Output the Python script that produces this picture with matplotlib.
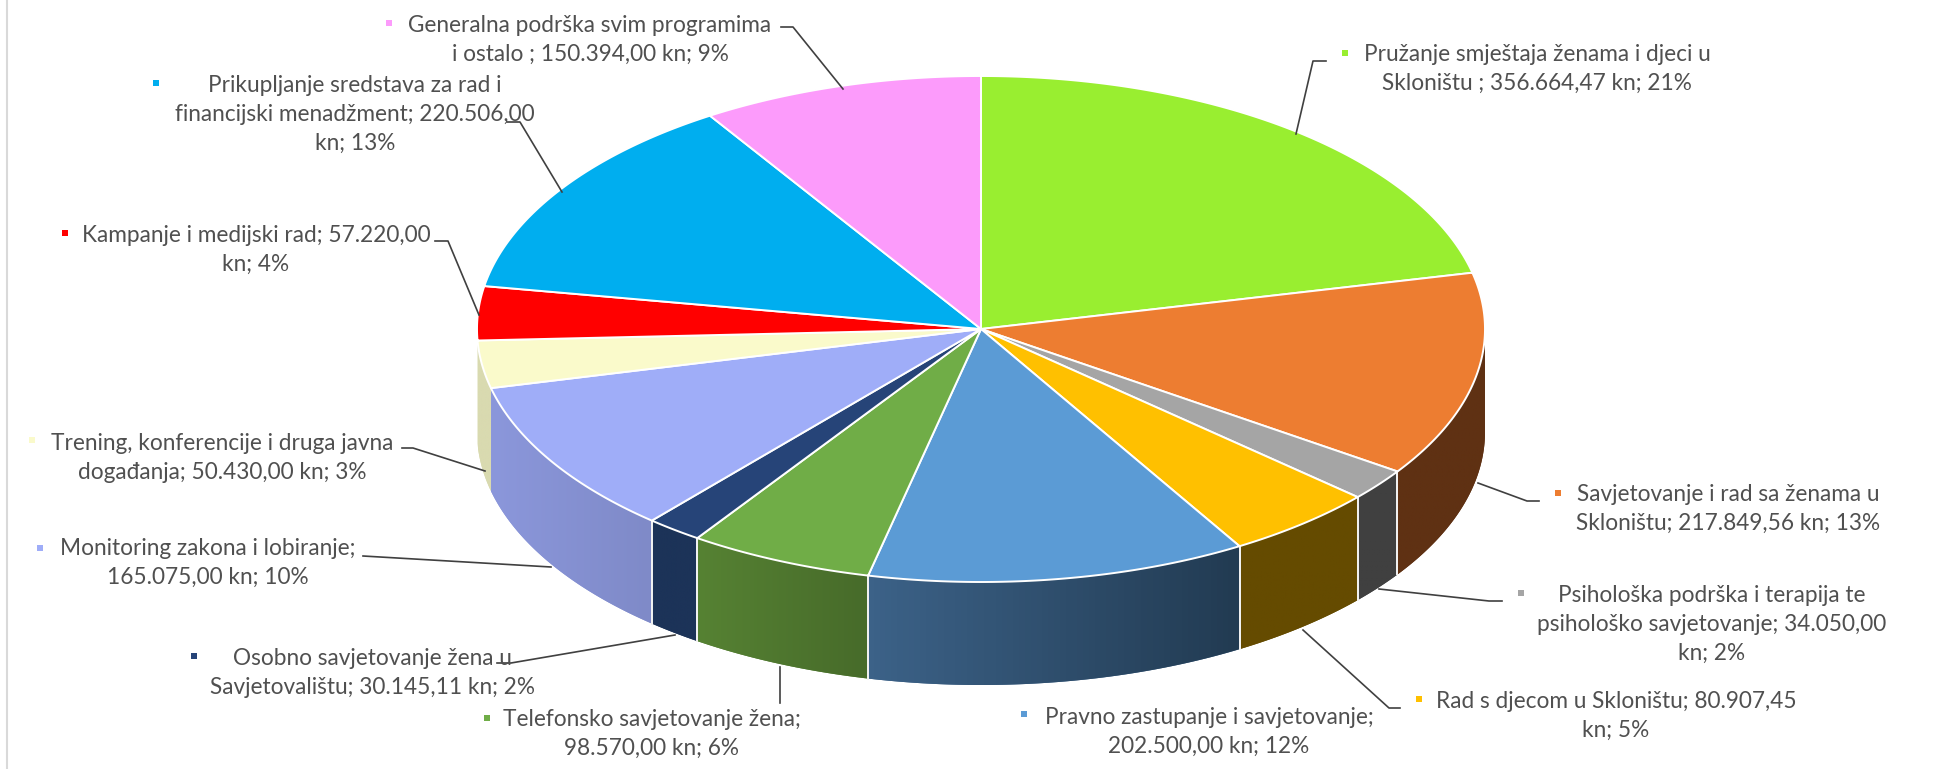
""" 3D style pie of expenses per programme, drawn with flat polygons"""

import numpy as np
import matplotlib
matplotlib.use('Agg')
import matplotlib.pyplot as plt
from matplotlib.colors import to_rgb

plt.rcParams['font.family'] = ['Lato', 'DejaVu Sans']

#%% data
values = [356664.47, 217849.56, 34050.00, 80907.45, 202500.00, 98570.00,
          30145.11, 165075.00, 50430.00, 57220.00, 220506.00, 150394.00]
labels = ['Pružanje smještaja ženama i djeci u\nSkloništu ; 356.664,47 kn; 21%',
          'Savjetovanje i rad sa ženama u\nSkloništu; 217.849,56 kn; 13%',
          'Psihološka podrška i terapija te\npsihološko savjetovanje; 34.050,00\nkn; 2%',
          'Rad s djecom u Skloništu; 80.907,45\nkn; 5%',
          'Pravno zastupanje i savjetovanje;\n202.500,00 kn; 12%',
          'Telefonsko savjetovanje žena;\n98.570,00 kn; 6%',
          'Osobno savjetovanje žena u\nSavjetovalištu; 30.145,11 kn; 2%',
          'Monitoring zakona i lobiranje;\n165.075,00 kn; 10%',
          'Trening, konferencije i druga javna\ndogađanja; 50.430,00 kn; 3%',
          'Kampanje i medijski rad; 57.220,00\nkn; 4%',
          'Prikupljanje sredstava za rad i\nfinancijski menadžment; 220.506,00\nkn; 13%',
          'Generalna podrška svim programima\ni ostalo ; 150.394,00 kn; 9%']

#%% styles
top_colors = ['#99ee30', '#ed7d31', '#a5a5a5', '#ffc000', '#5b9bd5', '#70ad47',
              '#264478', '#9fadf8', '#fafacb', '#ff0000', '#00aeef', '#fc9bfb']
# wall colour at the left and right end of each slice
wall_left = [None, '#5f3113', '#404040', '#654b00', '#3c6288', '#568233',
             '#1c3358', '#8b97db', '#d9dab0', None, None, None]
wall_right = [None, '#5f3113', '#404040', '#654b00', '#223b52', '#476b2a',
              '#1c3358', '#7f8ac8', '#d9dab0', None, None, None]

# layout in pixels of the 1943x769 picture
cx, cy, rx, ry, depth = 981, 329, 504, 253, 103
label_x = [1537, 1728, 1712, 1616, 1209, 652, 372, 208, 222, 256, 355, 590]
label_y = [54, 494, 595, 701, 717, 719, 658, 548, 443, 235, 85, 25]
key_x = [1345, 1558, 1521, 1419, 1024, 487, 194, 40, 32, 65, 156, 389]
key_y = [53, 493, 593, 699, 714, 718, 656, 548, 440, 233, 83, 23]
line_gap = 29.0
leaders = [[(1296, 134), (1313, 61), (1326, 61)],
           [(1478, 483), (1527, 501), (1539, 501)],
           [(1379, 589), (1489, 601), (1502, 601)],
           [(1303, 630), (1389, 708), (1400, 708)],
           None,
           [(780, 667), (780, 703)],
           [(675, 635), (511, 663), (497, 663)],
           [(551, 567), (363, 556)],
           [(485, 471), (413, 448), (402, 448)],
           [(479, 315), (448, 241), (435, 241)],
           [(562, 192), (520, 122), (507, 122)],
           [(843, 89), (793, 27), (781, 27)]]


def rim(t):
    """ point on the top ellipse, t in degrees clockwise from 12 o'clock"""
    t = np.radians(t)
    return cx + rx * np.sin(t), cy - ry * np.cos(t)


#%% figure
fig = plt.figure(figsize=(19.43, 7.69), dpi=100)
ax = fig.add_axes([0, 0, 1, 1])
ax.axis('off')
ax.plot([6.5, 6.5], [0, 769], color='#d9d9d9', lw=1.5)

edges = np.concatenate([[0], np.cumsum(values)]) / np.sum(values) * 360

#%% walls, a horizontal gradient clipped to the outline of each slice
for i in np.arange(len(values)):
    if wall_left[i] is None:
        continue
    t0, t1 = max(edges[i], 90), min(edges[i + 1], 270)
    ts = np.linspace(t0, t1, 120)
    xs, ys = rim(ts)
    x_min, x_max = xs.min(), xs.max()
    left, right = np.array(to_rgb(wall_left[i])), np.array(to_rgb(wall_right[i]))
    grad = np.linspace(0, 1, 64)[None, :, None]
    outline = ax.fill(np.r_[xs, xs[::-1]], np.r_[ys, ys[::-1] + depth],
                      facecolor=left, edgecolor='none', zorder=2)[0]
    img = ax.imshow(left + (right - left) * grad, aspect='auto', zorder=2.5,
                    extent=(x_min, x_max, ys.max() + depth, ys.min()))
    img.set_clip_path(outline)
    for t in [t0, t1]:
        if 90 < t < 256:
            x, y = rim(t)
            ax.plot([x, x], [y, y + depth], color='#f2f2f2', lw=1.3, zorder=3)

#%% top face
for i in np.arange(len(values)):
    ts = np.linspace(edges[i], edges[i + 1], 200)
    xs, ys = rim(ts)
    ax.fill(np.r_[cx, xs], np.r_[cy, ys], facecolor=top_colors[i], edgecolor='white',
            lw=1.4, joinstyle='round', zorder=4)

#%% leaders, labels, keys
for i in np.arange(len(values)):
    if leaders[i] is not None:
        pts = np.array(leaders[i])
        ax.plot(pts[:, 0], pts[:, 1], color='#404040', lw=1.2, zorder=5)
    for k, line in enumerate(labels[i].split('\n')):
        ax.text(label_x[i], label_y[i] + 7 + k * line_gap, line, ha='center', va='baseline',
                fontsize=16.3, color='#505050', zorder=6)
    ax.plot(key_x[i], key_y[i], marker='s', ms=4.5, mew=0, color=top_colors[i], zorder=6)

ax.set_xlim(0, 1943)
ax.set_ylim(769, 0)
plt.savefig('out.png', dpi=100)
